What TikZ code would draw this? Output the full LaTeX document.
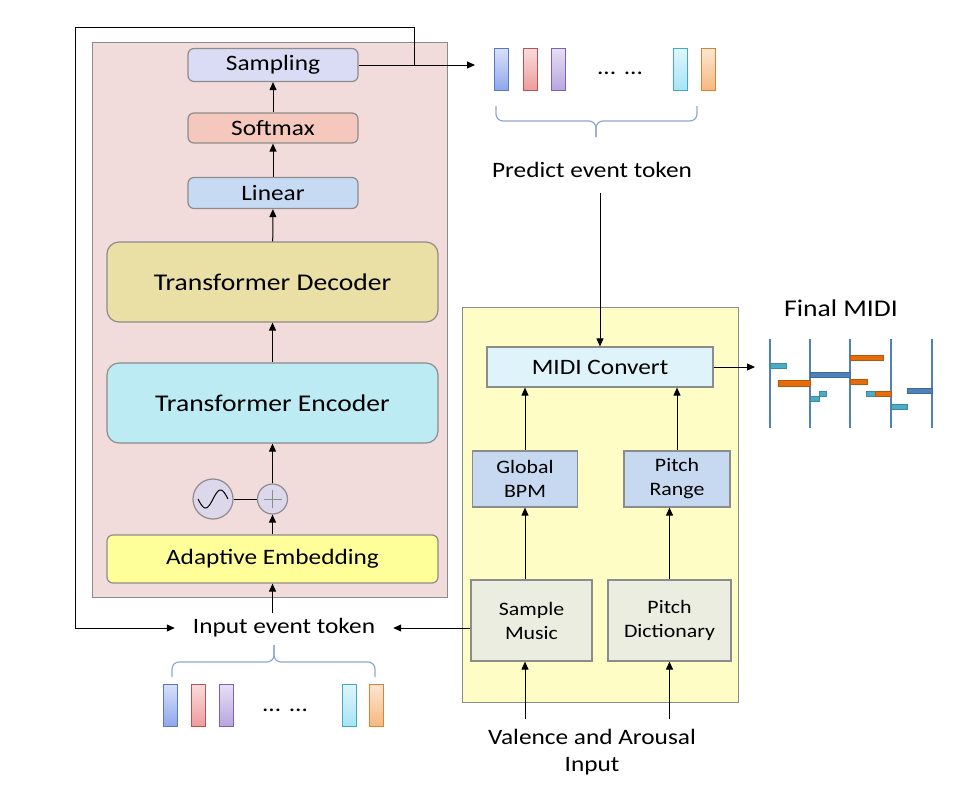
\documentclass[tikz,border=0pt]{standalone}
\usepackage{fontspec}
\setmainfont{Carlito}[FakeStretch=1.15]
\usetikzlibrary{arrows.meta}

\definecolor{boxgray}{HTML}{8C8C8C}
\definecolor{pinkbg}{HTML}{F2DCDB}
\definecolor{yellowbg}{HTML}{FEFDC6}
\definecolor{sampfill}{HTML}{DADCF6}
\definecolor{softfill}{HTML}{F4C8BC}
\definecolor{linfill}{HTML}{C6DAF3}
\definecolor{decfill}{HTML}{EAE0A6}
\definecolor{encfill}{HTML}{BDEBF3}
\definecolor{embfill}{HTML}{FFFF99}
\definecolor{circfill}{HTML}{DCD7EA}
\definecolor{midifill}{HTML}{DEF3FA}
\definecolor{bpmfill}{HTML}{C6D9F1}
\definecolor{smpfill}{HTML}{EBEDE0}
\definecolor{bracecol}{HTML}{8EA8CC}
\definecolor{tokblue}{HTML}{8FA8EC}
\definecolor{tokblueD}{HTML}{5A78C0}
\definecolor{tokred}{HTML}{EE9C9C}
\definecolor{tokredD}{HTML}{C05050}
\definecolor{tokpurple}{HTML}{B8A6E0}
\definecolor{tokpurpleD}{HTML}{8060B0}
\definecolor{tokcyan}{HTML}{A6E4F6}
\definecolor{tokcyanD}{HTML}{40A8C8}
\definecolor{tokorange}{HTML}{F6B880}
\definecolor{tokorangeD}{HTML}{E08030}
\definecolor{rollline}{HTML}{4F81BD}
\definecolor{noteteal}{HTML}{4BACC6}
\definecolor{noteorange}{HTML}{E46C0A}
\definecolor{noteblue}{HTML}{4F81BD}

\tikzset{
  block/.style={shape=rectangle,draw=boxgray,line width=1.2pt,rounded corners=6pt,inner sep=0pt,font=\fontsize{22}{24}\selectfont},
  bigblock/.style={block,rounded corners=12pt,font=\fontsize{24}{26}\selectfont},
  sqblock/.style={shape=rectangle,draw=boxgray,line width=1.2pt,inner sep=0pt,align=center,font=\fontsize{19}{24}\selectfont},
  panel/.style={shape=rectangle,draw=boxgray,line width=1pt,inner sep=0pt},
  token/.style={shape=rectangle,inner sep=0pt,minimum width=14pt,minimum height=42pt,line width=1pt},
  label/.style={inner sep=2pt,font=\fontsize{22}{27}\selectfont},
  arr/.style={-{Triangle[length=8pt,width=7pt]},line width=1pt},
  brc/.style={draw=bracecol,line width=1.2pt,rounded corners=7pt}
}

\begin{document}
\begin{tikzpicture}[x=1pt,y=-1pt]
\useasboundingbox (0,0) rectangle (966,788);

% background panels
\node[panel,fill=pinkbg,minimum width=355pt,minimum height=555pt] (model) at (269.5,319.5) {};
\node[panel,fill=yellowbg,minimum width=276pt,minimum height=395pt] (ctrl) at (600,504.5) {};

% transformer part
\node[block,fill=sampfill,minimum width=170pt,minimum height=33pt] (samp) at (273,65) {Sampling};
\node[block,fill=softfill,minimum width=170pt,minimum height=30pt] (soft) at (273,128) {Softmax};
\node[block,fill=linfill,minimum width=170pt,minimum height=31pt] (lin) at (273,193) {Linear};
\node[bigblock,fill=decfill,minimum width=331pt,minimum height=80pt] (dec) at (272.5,282) {Transformer Decoder};
\node[bigblock,fill=encfill,minimum width=331pt,minimum height=80pt] (enc) at (272.5,403) {Transformer Encoder};
\node[shape=circle,draw=boxgray,line width=1.2pt,fill=circfill,inner sep=0pt,minimum size=40pt] (osc) at (213,499) {};
\node[shape=circle,draw=boxgray,line width=1.2pt,fill=circfill,inner sep=0pt,minimum size=30pt] (plus) at (272.5,499) {};
\node[block,fill=embfill,minimum width=331pt,minimum height=48pt] (emb) at (272.5,559) {Adaptive Embedding};

\draw[line width=1pt,domain=-15:15,samples=40,smooth] plot ({213+\x},{499-9*sin(12*\x)});
\draw[boxgray,line width=1pt] (263.5,499) -- (281.5,499) (272.5,490) -- (272.5,508);

\path [arr] (emb) edge (plus);
\path [arr] (plus) edge (enc);
\path [-,line width=1pt] (osc) edge (plus);
\path [arr] (enc) edge (dec);
\path [arr] (dec) edge (lin);
\path [arr] (lin) edge (soft);
\path [arr] (soft) edge (samp);

% input tokens
\node[label,inner xsep=18pt,inner ysep=5pt] (inp) at (284,628) {Input event token};
\draw[arr] (emb.south |- inp.north) -- (emb.south);
\node[token,top color=tokblue!35,bottom color=tokblue,draw=tokblueD] (ia) at (170.5,705) {};
\node[token,top color=tokred!35,bottom color=tokred,draw=tokredD] (ib) at (198.5,705) {};
\node[token,top color=tokpurple!35,bottom color=tokpurple,draw=tokpurpleD] (ic) at (226.5,705) {};
\node[label,anchor=base] (idots) at (285,711) {... ...};
\node[token,top color=tokcyan!35,bottom color=tokcyan,draw=tokcyanD] (id) at (349.5,705) {};
\node[token,top color=tokorange!35,bottom color=tokorange,draw=tokorangeD] (ie) at (376.5,705) {};
\draw[brc] (172,677) -- (172,662) -- (274,662) -- (274,645);
\draw[brc] (375,677) -- (375,662) -- (274,662) -- (274,645);

% predicted tokens
\node[token,top color=tokblue!35,bottom color=tokblue,draw=tokblueD] (pa) at (501.5,69) {};
\node[token,top color=tokred!35,bottom color=tokred,draw=tokredD] (pb) at (530,69) {};
\node[token,top color=tokpurple!35,bottom color=tokpurple,draw=tokpurpleD] (pc) at (558,69) {};
\node[label,anchor=base] (pdots) at (620,74) {... ...};
\node[token,top color=tokcyan!35,bottom color=tokcyan,draw=tokcyanD] (pd) at (680,69) {};
\node[token,top color=tokorange!35,bottom color=tokorange,draw=tokorangeD] (pe) at (708,69) {};
\draw[brc] (496,106) -- (496,121) -- (596,121) -- (596,137);
\draw[brc] (697,106) -- (697,121) -- (596,121) -- (596,137);
\node[label] (pred) at (592,170) {Predict event token};

% sampling output and feedback loop
\coordinate (loop) at (414,65);
\draw[arr] (samp.east) -- ([xshift=-19pt]pa.west |- samp.east);
\draw[arr] (loop) -- (414,27) -- (75,27) -- (75,628) -- (inp.west);

% control part
\node[block,rounded corners=0pt,fill=midifill,minimum width=226pt,minimum height=40pt] (midi) at (600,367) {MIDI Convert};
\node[sqblock,fill=bpmfill,minimum width=105pt,minimum height=56pt] (bpm) at (525,479) {Global\\BPM};
\node[sqblock,fill=bpmfill,minimum width=106pt,minimum height=56pt] (rng) at (677,479) {Pitch\\Range};
\node[sqblock,fill=smpfill,minimum width=121pt,minimum height=81pt] (smp) at (531.5,620.5) {Sample\\Music};
\node[sqblock,fill=smpfill,minimum width=123pt,minimum height=81pt] (dict) at (669.5,620.5) {Pitch\\Dictionary};
\node[label,align=center,inner sep=0pt] (va) at (592,752) {Valence and Arousal\\Input};

\draw[arr] ([yshift=-13pt]pred.south -| midi.north) -- (midi.north);
\draw[arr] (bpm.north) -- (bpm.north |- midi.south);
\draw[arr] (rng.north) -- (rng.north |- midi.south);
\draw[arr] (bpm.south |- smp.north) -- (bpm.south);
\draw[arr] (dict.north) -- (dict.north |- rng.south);
\draw[arr] ([yshift=10pt]bpm.south |- va.north) -- (bpm.south |- smp.south);
\draw[arr] ([yshift=10pt]dict.south |- va.north) -- (dict.south);
\draw[arr] (smp.west |- inp.east) -- (inp.east);

% final midi roll
\coordinate (rollin) at (755,367);
\draw[arr] (midi.east) -- (rollin);
\node[label,font=\fontsize{24}{28}\selectfont] (final) at (841,308) {Final MIDI};
\foreach \x in {770,810,850,891,932}
  \draw[rollline,line width=1.2pt] (\x,339) -- (\x,428);
\foreach \xa/\ya/\xb/\yb/\c in {770/363/786/368/noteteal,778/380/810/386/noteorange,810/372/850/377/noteblue,
  810/396/819/401/noteteal,819/391/826/396/noteteal,850/355/883/360/noteorange,850/379/867/384/noteorange,
  866/391/875/396/noteteal,875/391/891/396/noteorange,891/404/907/409/noteteal,907/388/932/393/noteblue}
  \draw[fill=\c,draw=\c!80!black,line width=0.5pt] (\xa,\ya) rectangle (\xb,\yb);

\end{tikzpicture}
\end{document}
